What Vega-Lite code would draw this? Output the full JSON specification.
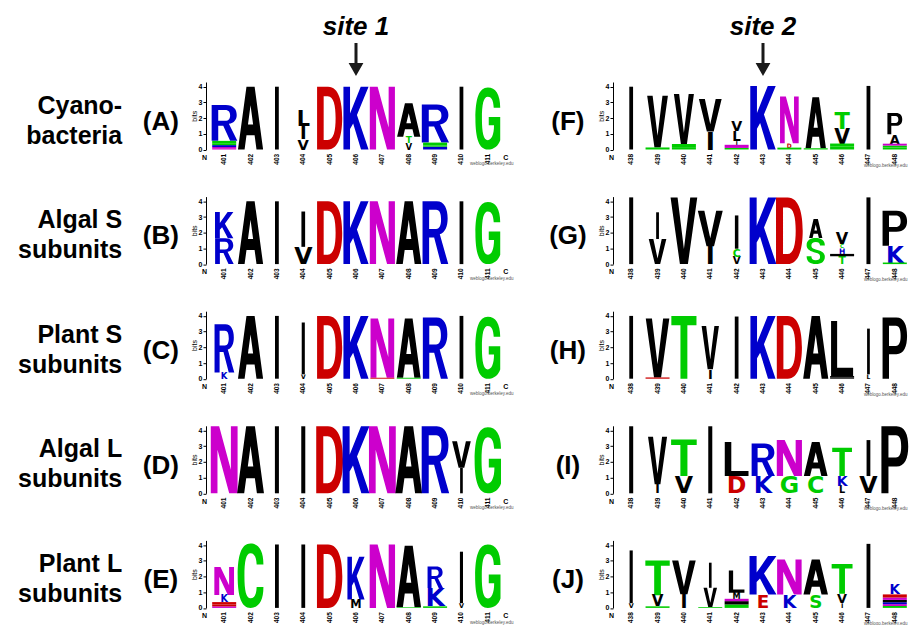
{
"$schema": "https://vega.github.io/schema/vega-lite/v6.json",
"padding": {"left": 17, "top": 13, "right": 0, "bottom": 0},
"bounds": "flush",
"spacing": {"row": 46.6, "column": 107},
"config": {"view": {"stroke": null}, "text": {"font": "Liberation Sans"},
 "axisY": {"grid": false, "domainColor": "#000", "tickColor": "#000", "tickSize": 3, "labelFontSize": 7, "labelFont": "Liberation Sans", "labelFontWeight": "bold", "labelColor": "#000", "labelPadding": 1, "titleFontSize": 7, "titleFont": "Liberation Sans", "titleFontWeight": "normal", "titleColor": "#000", "titlePadding": 1}},
"data": {"values": [
{"r":1,"s":1,"c":1,"p":401,"l":"N","b":0.08,"o":1},{"r":1,"s":1,"c":1,"p":401,"l":"Q","b":0.08,"o":2},{"r":1,"s":1,"c":1,"p":401,"l":"K","b":0.12,"o":3},{"r":1,"s":1,"c":1,"p":401,"l":"S","b":0.12,"o":4},{"r":1,"s":1,"c":1,"p":401,"l":"G","b":0.15,"o":5},{"r":1,"s":1,"c":1,"p":401,"l":"R","b":2.28,"o":6},
{"r":1,"s":1,"c":2,"p":402,"l":"A","b":4.0,"o":1},
{"r":1,"s":1,"c":3,"p":403,"l":"I","b":4.0,"o":1},
{"r":1,"s":1,"c":4,"p":404,"l":"V","b":0.68,"o":1},{"r":1,"s":1,"c":4,"p":404,"l":"I","b":0.83,"o":2},{"r":1,"s":1,"c":4,"p":404,"l":"L","b":0.97,"o":3},
{"r":1,"s":1,"c":5,"p":405,"l":"D","b":4.0,"o":1},
{"r":1,"s":1,"c":6,"p":406,"l":"K","b":4.0,"o":1},
{"r":1,"s":1,"c":7,"p":407,"l":"N","b":4.0,"o":1},
{"r":1,"s":1,"c":8,"p":408,"l":"V","b":0.4,"o":1},{"r":1,"s":1,"c":8,"p":408,"l":"T","b":0.42,"o":2},{"r":1,"s":1,"c":8,"p":408,"l":"A","b":2.12,"o":3},
{"r":1,"s":1,"c":9,"p":409,"l":"K","b":0.18,"o":1},{"r":1,"s":1,"c":9,"p":409,"l":"S","b":0.08,"o":2},{"r":1,"s":1,"c":9,"p":409,"l":"G","b":0.18,"o":3},{"r":1,"s":1,"c":9,"p":409,"l":"R","b":2.42,"o":4},
{"r":1,"s":1,"c":10,"p":410,"l":"I","b":4.0,"o":1},
{"r":1,"s":1,"c":11,"p":411,"l":"G","b":3.95,"o":1},

{"r":2,"s":1,"c":1,"p":401,"l":"R","b":1.65,"o":1},{"r":2,"s":1,"c":1,"p":401,"l":"K","b":1.67,"o":2},
{"r":2,"s":1,"c":2,"p":402,"l":"A","b":4.0,"o":1},
{"r":2,"s":1,"c":3,"p":403,"l":"I","b":4.0,"o":1},
{"r":2,"s":1,"c":4,"p":404,"l":"V","b":1.1,"o":1},{"r":2,"s":1,"c":4,"p":404,"l":"I","b":2.25,"o":2},
{"r":2,"s":1,"c":5,"p":405,"l":"D","b":4.0,"o":1},
{"r":2,"s":1,"c":6,"p":406,"l":"K","b":4.0,"o":1},
{"r":2,"s":1,"c":7,"p":407,"l":"N","b":4.0,"o":1},
{"r":2,"s":1,"c":8,"p":408,"l":"A","b":4.0,"o":1},
{"r":2,"s":1,"c":9,"p":409,"l":"R","b":4.0,"o":1},
{"r":2,"s":1,"c":10,"p":410,"l":"I","b":4.0,"o":1},
{"r":2,"s":1,"c":11,"p":411,"l":"G","b":3.95,"o":1},

{"r":3,"s":1,"c":1,"p":401,"l":"K","b":0.4,"o":1},{"r":3,"s":1,"c":1,"p":401,"l":"R","b":3.07,"o":2},
{"r":3,"s":1,"c":2,"p":402,"l":"A","b":4.0,"o":1},
{"r":3,"s":1,"c":3,"p":403,"l":"I","b":4.0,"o":1},
{"r":3,"s":1,"c":4,"p":404,"l":"V","b":0.28,"o":1},{"r":3,"s":1,"c":4,"p":404,"l":"I","b":3.3,"o":2},
{"r":3,"s":1,"c":5,"p":405,"l":"D","b":4.0,"o":1},
{"r":3,"s":1,"c":6,"p":406,"l":"K","b":4.0,"o":1},
{"r":3,"s":1,"c":7,"p":407,"l":"D","b":0.06,"o":1},{"r":3,"s":1,"c":7,"p":407,"l":"N","b":3.77,"o":2},
{"r":3,"s":1,"c":8,"p":408,"l":"S","b":0.06,"o":1},{"r":3,"s":1,"c":8,"p":408,"l":"A","b":3.77,"o":2},
{"r":3,"s":1,"c":9,"p":409,"l":"R","b":3.9,"o":1},
{"r":3,"s":1,"c":10,"p":410,"l":"I","b":4.0,"o":1},
{"r":3,"s":1,"c":11,"p":411,"l":"G","b":3.95,"o":1},

{"r":4,"s":1,"c":1,"p":401,"l":"N","b":4.27,"o":1},
{"r":4,"s":1,"c":2,"p":402,"l":"A","b":4.27,"o":1},
{"r":4,"s":1,"c":3,"p":403,"l":"I","b":4.27,"o":1},
{"r":4,"s":1,"c":4,"p":404,"l":"I","b":4.27,"o":1},
{"r":4,"s":1,"c":5,"p":405,"l":"D","b":4.27,"o":1},
{"r":4,"s":1,"c":6,"p":406,"l":"K","b":4.27,"o":1},
{"r":4,"s":1,"c":7,"p":407,"l":"N","b":4.27,"o":1},
{"r":4,"s":1,"c":8,"p":408,"l":"A","b":4.27,"o":1},
{"r":4,"s":1,"c":9,"p":409,"l":"R","b":4.27,"o":1},
{"r":4,"s":1,"c":10,"p":410,"l":"I","b":1.62,"o":1},{"r":4,"s":1,"c":10,"p":410,"l":"V","b":1.7,"o":2},
{"r":4,"s":1,"c":11,"p":411,"l":"G","b":4.2,"o":1},

{"r":5,"s":1,"c":1,"p":401,"l":"Q","b":0.1,"o":1},{"r":5,"s":1,"c":1,"p":401,"l":"E","b":0.12,"o":2},{"r":5,"s":1,"c":1,"p":401,"l":"D","b":0.15,"o":3},{"r":5,"s":1,"c":1,"p":401,"l":"K","b":0.45,"o":4},{"r":5,"s":1,"c":1,"p":401,"l":"N","b":1.79,"o":5},
{"r":5,"s":1,"c":2,"p":402,"l":"C","b":4.1,"o":1},
{"r":5,"s":1,"c":3,"p":403,"l":"I","b":4.04,"o":1},
{"r":5,"s":1,"c":4,"p":404,"l":"I","b":4.04,"o":1},
{"r":5,"s":1,"c":5,"p":405,"l":"D","b":4.04,"o":1},
{"r":5,"s":1,"c":6,"p":406,"l":"M","b":0.53,"o":1},{"r":5,"s":1,"c":6,"p":406,"l":"K","b":2.73,"o":2},
{"r":5,"s":1,"c":7,"p":407,"l":"N","b":4.04,"o":1},
{"r":5,"s":1,"c":8,"p":408,"l":"G","b":0.04,"o":1},{"r":5,"s":1,"c":8,"p":408,"l":"A","b":3.92,"o":2},
{"r":5,"s":1,"c":9,"p":409,"l":"S","b":0.1,"o":1},{"r":5,"s":1,"c":9,"p":409,"l":"K","b":1.16,"o":2},{"r":5,"s":1,"c":9,"p":409,"l":"R","b":1.37,"o":3},
{"r":5,"s":1,"c":10,"p":410,"l":"V","b":0.3,"o":1},{"r":5,"s":1,"c":10,"p":410,"l":"I","b":3.28,"o":2},
{"r":5,"s":1,"c":11,"p":411,"l":"G","b":4.04,"o":1},

{"r":1,"s":2,"c":1,"p":438,"l":"I","b":4.0,"o":1},
{"r":1,"s":2,"c":2,"p":439,"l":"T","b":0.13,"o":1},{"r":1,"s":2,"c":2,"p":439,"l":"V","b":3.3,"o":2},
{"r":1,"s":2,"c":3,"p":440,"l":"S","b":0.15,"o":1},{"r":1,"s":2,"c":3,"p":440,"l":"G","b":0.2,"o":2},{"r":1,"s":2,"c":3,"p":440,"l":"V","b":3.19,"o":3},
{"r":1,"s":2,"c":4,"p":441,"l":"I","b":1.15,"o":1},{"r":1,"s":2,"c":4,"p":441,"l":"V","b":2.07,"o":2},
{"r":1,"s":2,"c":5,"p":442,"l":"G","b":0.1,"o":1},{"r":1,"s":2,"c":5,"p":442,"l":"N","b":0.2,"o":2},{"r":1,"s":2,"c":5,"p":442,"l":"I","b":0.25,"o":3},{"r":1,"s":2,"c":5,"p":442,"l":"L","b":0.63,"o":4},{"r":1,"s":2,"c":5,"p":442,"l":"V","b":0.66,"o":5},
{"r":1,"s":2,"c":6,"p":443,"l":"K","b":4.05,"o":1},
{"r":1,"s":2,"c":7,"p":444,"l":"G","b":0.12,"o":1},{"r":1,"s":2,"c":7,"p":444,"l":"D","b":0.28,"o":2},{"r":1,"s":2,"c":7,"p":444,"l":"N","b":2.97,"o":3},
{"r":1,"s":2,"c":8,"p":445,"l":"S","b":0.08,"o":1},{"r":1,"s":2,"c":8,"p":445,"l":"A","b":3.25,"o":2},
{"r":1,"s":2,"c":9,"p":446,"l":"S","b":0.18,"o":1},{"r":1,"s":2,"c":9,"p":446,"l":"G","b":0.2,"o":2},{"r":1,"s":2,"c":9,"p":446,"l":"V","b":0.95,"o":3},{"r":1,"s":2,"c":9,"p":446,"l":"T","b":1.05,"o":4},
{"r":1,"s":2,"c":10,"p":447,"l":"I","b":4.05,"o":1},
{"r":1,"s":2,"c":11,"p":448,"l":"G","b":0.13,"o":1},{"r":1,"s":2,"c":11,"p":448,"l":"S","b":0.12,"o":2},{"r":1,"s":2,"c":11,"p":448,"l":"N","b":0.12,"o":3},{"r":1,"s":2,"c":11,"p":448,"l":"A","b":0.6,"o":4},{"r":1,"s":2,"c":11,"p":448,"l":"P","b":1.35,"o":5},

{"r":2,"s":2,"c":1,"p":438,"l":"I","b":4.25,"o":1},
{"r":2,"s":2,"c":2,"p":439,"l":"V","b":1.6,"o":1},{"r":2,"s":2,"c":2,"p":439,"l":"I","b":1.7,"o":2},
{"r":2,"s":2,"c":3,"p":440,"l":"V","b":4.25,"o":1},
{"r":2,"s":2,"c":4,"p":441,"l":"I","b":1.13,"o":1},{"r":2,"s":2,"c":4,"p":441,"l":"V","b":2.27,"o":2},
{"r":2,"s":2,"c":5,"p":442,"l":"V","b":0.48,"o":1},{"r":2,"s":2,"c":5,"p":442,"l":"C","b":0.5,"o":2},{"r":2,"s":2,"c":5,"p":442,"l":"I","b":2.12,"o":3},
{"r":2,"s":2,"c":6,"p":443,"l":"K","b":4.25,"o":1},
{"r":2,"s":2,"c":7,"p":444,"l":"D","b":4.25,"o":1},
{"r":2,"s":2,"c":8,"p":445,"l":"S","b":1.66,"o":1},{"r":2,"s":2,"c":8,"p":445,"l":"A","b":1.21,"o":2},
{"r":2,"s":2,"c":9,"p":446,"l":"T","b":0.5,"o":1},{"r":2,"s":2,"c":9,"p":446,"l":"I","b":0.15,"o":2},{"r":2,"s":2,"c":9,"p":446,"l":"H","b":0.35,"o":3},{"r":2,"s":2,"c":9,"p":446,"l":"C","b":0.25,"o":4},{"r":2,"s":2,"c":9,"p":446,"l":"V","b":0.75,"o":5},
{"r":2,"s":2,"c":10,"p":447,"l":"I","b":4.25,"o":1},
{"r":2,"s":2,"c":11,"p":448,"l":"S","b":0.1,"o":1},{"r":2,"s":2,"c":11,"p":448,"l":"K","b":1.07,"o":2},{"r":2,"s":2,"c":11,"p":448,"l":"P","b":2.23,"o":3},

{"r":3,"s":2,"c":1,"p":438,"l":"I","b":4.0,"o":1},
{"r":3,"s":2,"c":2,"p":439,"l":"D","b":0.08,"o":1},{"r":3,"s":2,"c":2,"p":439,"l":"V","b":3.75,"o":2},
{"r":3,"s":2,"c":3,"p":440,"l":"T","b":4.0,"o":1},
{"r":3,"s":2,"c":4,"p":441,"l":"I","b":0.6,"o":1},{"r":3,"s":2,"c":4,"p":441,"l":"V","b":2.76,"o":2},
{"r":3,"s":2,"c":5,"p":442,"l":"I","b":3.96,"o":1},
{"r":3,"s":2,"c":6,"p":443,"l":"K","b":4.0,"o":1},
{"r":3,"s":2,"c":7,"p":444,"l":"D","b":4.0,"o":1},
{"r":3,"s":2,"c":8,"p":445,"l":"A","b":4.0,"o":1},
{"r":3,"s":2,"c":9,"p":446,"l":"V","b":0.07,"o":1},{"r":3,"s":2,"c":9,"p":446,"l":"M","b":0.1,"o":2},{"r":3,"s":2,"c":9,"p":446,"l":"L","b":3.51,"o":3},
{"r":3,"s":2,"c":10,"p":447,"l":"L","b":0.28,"o":1},{"r":3,"s":2,"c":10,"p":447,"l":"I","b":2.91,"o":2},
{"r":3,"s":2,"c":11,"p":448,"l":"P","b":3.9,"o":1},

{"r":4,"s":2,"c":1,"p":438,"l":"I","b":4.27,"o":1},
{"r":4,"s":2,"c":2,"p":439,"l":"I","b":0.57,"o":1},{"r":4,"s":2,"c":2,"p":439,"l":"V","b":3.03,"o":2},
{"r":4,"s":2,"c":3,"p":440,"l":"V","b":1.1,"o":1},{"r":4,"s":2,"c":3,"p":440,"l":"T","b":2.33,"o":2},
{"r":4,"s":2,"c":4,"p":441,"l":"I","b":4.27,"o":1},
{"r":4,"s":2,"c":5,"p":442,"l":"D","b":1.1,"o":1},{"r":4,"s":2,"c":5,"p":442,"l":"L","b":2.16,"o":2},
{"r":4,"s":2,"c":6,"p":443,"l":"K","b":1.1,"o":1},{"r":4,"s":2,"c":6,"p":443,"l":"R","b":2.07,"o":2},
{"r":4,"s":2,"c":7,"p":444,"l":"G","b":1.1,"o":1},{"r":4,"s":2,"c":7,"p":444,"l":"N","b":2.29,"o":2},
{"r":4,"s":2,"c":8,"p":445,"l":"C","b":1.1,"o":1},{"r":4,"s":2,"c":8,"p":445,"l":"A","b":2.16,"o":2},
{"r":4,"s":2,"c":9,"p":446,"l":"L","b":0.45,"o":1},{"r":4,"s":2,"c":9,"p":446,"l":"K","b":0.65,"o":2},{"r":4,"s":2,"c":9,"p":446,"l":"T","b":1.8,"o":3},
{"r":4,"s":2,"c":10,"p":447,"l":"V","b":1.1,"o":1},{"r":4,"s":2,"c":10,"p":447,"l":"I","b":2.29,"o":2},
{"r":4,"s":2,"c":11,"p":448,"l":"P","b":4.27,"o":1},

{"r":5,"s":2,"c":1,"p":438,"l":"V","b":0.3,"o":1},{"r":5,"s":2,"c":1,"p":438,"l":"I","b":3.36,"o":2},
{"r":5,"s":2,"c":2,"p":439,"l":"S","b":0.1,"o":1},{"r":5,"s":2,"c":2,"p":439,"l":"V","b":0.7,"o":2},{"r":5,"s":2,"c":2,"p":439,"l":"T","b":2.22,"o":3},
{"r":5,"s":2,"c":3,"p":440,"l":"I","b":0.87,"o":1},{"r":5,"s":2,"c":3,"p":440,"l":"V","b":2.15,"o":2},
{"r":5,"s":2,"c":4,"p":441,"l":"G","b":0.05,"o":1},{"r":5,"s":2,"c":4,"p":441,"l":"V","b":1.23,"o":2},{"r":5,"s":2,"c":4,"p":441,"l":"I","b":1.6,"o":3},
{"r":5,"s":2,"c":5,"p":442,"l":"G","b":0.22,"o":1},{"r":5,"s":2,"c":5,"p":442,"l":"V","b":0.21,"o":2},{"r":5,"s":2,"c":5,"p":442,"l":"N","b":0.15,"o":3},{"r":5,"s":2,"c":5,"p":442,"l":"M","b":0.38,"o":4},{"r":5,"s":2,"c":5,"p":442,"l":"L","b":1.42,"o":5},
{"r":5,"s":2,"c":6,"p":443,"l":"E","b":0.85,"o":1},{"r":5,"s":2,"c":6,"p":443,"l":"K","b":2.45,"o":2},
{"r":5,"s":2,"c":7,"p":444,"l":"K","b":0.85,"o":1},{"r":5,"s":2,"c":7,"p":444,"l":"N","b":2.23,"o":2},
{"r":5,"s":2,"c":8,"p":445,"l":"S","b":0.85,"o":1},{"r":5,"s":2,"c":8,"p":445,"l":"A","b":2.23,"o":2},
{"r":5,"s":2,"c":9,"p":446,"l":"I","b":0.3,"o":1},{"r":5,"s":2,"c":9,"p":446,"l":"V","b":0.6,"o":2},{"r":5,"s":2,"c":9,"p":446,"l":"T","b":1.9,"o":3},
{"r":5,"s":2,"c":10,"p":447,"l":"I","b":4.08,"o":1},
{"r":5,"s":2,"c":11,"p":448,"l":"S","b":0.12,"o":1},{"r":5,"s":2,"c":11,"p":448,"l":"Q","b":0.12,"o":2},{"r":5,"s":2,"c":11,"p":448,"l":"H","b":0.12,"o":3},{"r":5,"s":2,"c":11,"p":448,"l":"M","b":0.15,"o":4},{"r":5,"s":2,"c":11,"p":448,"l":"N","b":0.15,"o":5},{"r":5,"s":2,"c":11,"p":448,"l":"E","b":0.2,"o":6},{"r":5,"s":2,"c":11,"p":448,"l":"K","b":0.63,"o":7},

{"r":1,"s":1,"k":"pl","t":"(A)"},{"r":2,"s":1,"k":"pl","t":"(B)"},{"r":3,"s":1,"k":"pl","t":"(C)"},{"r":4,"s":1,"k":"pl","t":"(D)"},{"r":5,"s":1,"k":"pl","t":"(E)"},
{"r":1,"s":2,"k":"pl","t":"(F)"},{"r":2,"s":2,"k":"pl","t":"(G)"},{"r":3,"s":2,"k":"pl","t":"(H)"},{"r":4,"s":2,"k":"pl","t":"(I)"},{"r":5,"s":2,"k":"pl","t":"(J)"},
{"r":1,"s":1,"k":"rl","t":["Cyano-","bacteria"]},{"r":2,"s":1,"k":"rl","t":["Algal S","subunits"]},{"r":3,"s":1,"k":"rl","t":["Plant S","subunits"]},{"r":4,"s":1,"k":"rl","t":["Algal L","subunits"]},{"r":5,"s":1,"k":"rl","t":["Plant L","subunits"]},
{"r":1,"s":1,"k":"st","t":"site 1"},{"r":1,"s":2,"k":"st","t":"site 2"}
]},
"transform": [{"stack": "b", "groupby": ["r","s","c"], "sort": [{"field": "o", "order": "ascending"}], "as": ["y0","y1"]}],
"facet": {"row": {"field": "r", "type": "ordinal", "header": null}, "column": {"field": "s", "type": "ordinal", "header": null}},
"resolve": {"scale": {"y": "independent"}, "axis": {"y": "independent"}},
"spec": {
"width": 300, "height": 67.5,
"resolve": {"scale": {"shape": "independent", "size": "independent"}},
"layer": [
{"transform": [{"filter": "datum.b >= 2.6"}],
 "mark": {"type": "point", "filled": true, "opacity": 1, "strokeWidth": 0},
 "encoding": {
  "x": {"field": "c", "type": "quantitative", "scale": {"domain": [0.5, 11.5], "nice": false, "zero": false}, "axis": null},
  "y": {"field": "y0", "type": "quantitative", "scale": {"domain": [0, 4.3], "nice": false}, "axis": {"title": "bits", "values": [0,1,2,3,4]}},
  "shape": {"field": "l", "type": "nominal", "legend": null, "scale": {"domain": ["A","C","D","G","I","K","L","N","P","R","T","V"], "range": [
   "M-4 0L-1.3 -20L1.3 -20L4 0L1.9 0L1.29 -4.5L-1.29 -4.5L-1.9 0Z M-0.82 -8L0.82 -8L0 -14.1Z",
   "M4 -13.5C4 -17.8 2.5 -20 0 -20C-2.8 -20 -4 -16.5 -4 -10C-4 -3.5 -2.8 0 0 0C2.5 0 4 -2.2 4 -6.5L1.9 -6.5C1.8 -4 1.1 -3 0 -3C-1.4 -3 -1.9 -5.5 -1.9 -10C-1.9 -14.5 -1.4 -17 0 -17C1.1 -17 1.8 -16 1.9 -13.5Z",
   "M-4 -20L-0.5 -20C3 -20 4 -15 4 -10C4 -5 3 0 -0.5 0L-4 0Z M-1.9 -17L-1.9 -3L-0.6 -3C1.3 -3 1.9 -6 1.9 -10C1.9 -14 1.3 -17 -0.6 -17Z",
   "M4 -13.5C4 -17.8 2.5 -20 0 -20C-2.8 -20 -4 -16.5 -4 -10C-4 -3.5 -2.8 0 0 0C2 0 3.4 -1.2 4 -3L4 -10.5L0.3 -10.5L0.3 -7.8L2 -7.8C2 -4.8 1.2 -3 0 -3C-1.4 -3 -1.9 -5.5 -1.9 -10C-1.9 -14.5 -1.4 -17 0 -17C1.1 -17 1.8 -16 1.9 -13.5Z",
   "M-0.6 -20L0.6 -20L0.6 0L-0.6 0Z",
   "M-4 -20L-1.9 -20L-1.9 -11.5L1.5 -20L4 -20L0.3 -11L4 0L1.6 0L-0.9 -8.3L-1.9 -6.5L-1.9 0L-4 0Z",
   "M-4 -20L-1.8 -20L-1.8 -3L4 -3L4 0L-4 0Z",
   "M-4 0L-4 -20L-1.5 -20L2 -7L2 -20L4 -20L4 0L1.5 0L-2 -13L-2 0Z",
   "M-4 0L-4 -20L0.5 -20C3 -20 4 -17.5 4 -14C4 -10.5 3 -8 0.5 -8L-1.9 -8L-1.9 0Z M-1.9 -17.3L-1.9 -10.7L0.3 -10.7C1.5 -10.7 1.9 -12 1.9 -14C1.9 -16 1.5 -17.3 0.3 -17.3Z",
   "M-4 0L-4 -20L0.5 -20C3 -20 4 -17.5 4 -14.5C4 -12 3.2 -10 1.5 -9.5L4.2 0L1.9 0L-0.3 -8.5L-1.9 -8.5L-1.9 0Z M-1.9 -17.3L-1.9 -11.2L0.3 -11.2C1.5 -11.2 1.9 -12.5 1.9 -14.2C1.9 -16 1.5 -17.3 0.3 -17.3Z",
   "M-4 -20L4 -20L4 -17L1.1 -17L1.1 0L-1.1 0L-1.1 -17L-4 -17Z",
   "M-4 -20L-1.9 -20L0 -4.5L1.9 -20L4 -20L1.2 0L-1.2 0Z"]}},
  "size": {"field": "b", "type": "quantitative", "legend": null, "scale": {"type": "pow", "exponent": 2, "domain": [0, 4], "range": [0, 39.43]}},
  "color": {"field": "l", "type": "nominal", "legend": null, "scale": {"domain": ["A","C","D","E","F","G","H","I","K","L","M","N","P","Q","R","S","T","V","W","Y"], "range": ["#000000","#00CC00","#CC0000","#CC0000","#000000","#00CC00","#0000CC","#000000","#0000CC","#000000","#000000","#CC00CC","#000000","#CC00CC","#0000CC","#00CC00","#00CC00","#000000","#000000","#00CC00"]}}
 }},
{"transform": [{"filter": "datum.b >= 1.2 && datum.b < 2.6"}],
 "mark": {"type": "point", "filled": true, "opacity": 1, "strokeWidth": 0},
 "encoding": {
  "x": {"field": "c", "type": "quantitative", "scale": {"domain": [0.5, 11.5], "nice": false, "zero": false}, "axis": null},
  "y": {"field": "y0", "type": "quantitative", "scale": {"domain": [0, 4.3], "nice": false}, "axis": {"title": "bits", "values": [0,1,2,3,4]}},
  "shape": {"field": "l", "type": "nominal", "legend": null, "scale": {"domain": ["A","I","K","L","N","P","R","S","T","V"], "range": [
   "M-7 0L-2.275 -20L2.275 -20L7 0L3.325 0L2.258 -4.5L-2.258 -4.5L-3.325 0Z M-1.435 -8L1.435 -8L0 -14.1Z",
   "M-1.05 -20L1.05 -20L1.05 0L-1.05 0Z",
   "M-7 -20L-3.325 -20L-3.325 -11.5L2.625 -20L7 -20L0.525 -11L7 0L2.8 0L-1.575 -8.3L-3.325 -6.5L-3.325 0L-7 0Z",
   "M-7 -20L-3.15 -20L-3.15 -3L7 -3L7 0L-7 0Z",
   "M-7 0L-7 -20L-2.625 -20L3.5 -7L3.5 -20L7 -20L7 0L2.625 0L-3.5 -13L-3.5 0Z",
   "M-7 0L-7 -20L0.875 -20C5.25 -20 7 -17.5 7 -14C7 -10.5 5.25 -8 0.875 -8L-3.325 -8L-3.325 0Z M-3.325 -17.3L-3.325 -10.7L0.525 -10.7C2.625 -10.7 3.325 -12 3.325 -14C3.325 -16 2.625 -17.3 0.525 -17.3Z",
   "M-7 0L-7 -20L0.875 -20C5.25 -20 7 -17.5 7 -14.5C7 -12 5.6 -10 2.625 -9.5L7.35 0L3.325 0L-0.525 -8.5L-3.325 -8.5L-3.325 0Z M-3.325 -17.3L-3.325 -11.2L0.525 -11.2C2.625 -11.2 3.325 -12.5 3.325 -14.2C3.325 -16 2.625 -17.3 0.525 -17.3Z",
   "M7 -14.3C7 -18.3 4.025 -20 0 -20C-4.375 -20 -7 -18 -7 -14.5C-7 -11 -3.85 -10 0 -8.7C2.625 -8.1 3.325 -7.3 3.325 -5.5C3.325 -3.8 2.1 -3 0 -3C-2.275 -3 -3.325 -4 -3.325 -6L-7 -6C-7 -1.8 -4.025 0 0 0C4.55 0 7 -2 7 -5.6C7 -9 3.85 -10.4 0 -11.3C-2.45 -11.8 -3.325 -12.5 -3.325 -14.3C-3.325 -16 -2.1 -17 0 -17C2.1 -17 3.15 -16.2 3.325 -14.3Z",
   "M-7 -20L7 -20L7 -17L1.925 -17L1.925 0L-1.925 0L-1.925 -17L-7 -17Z",
   "M-7 -20L-3.325 -20L0 -4.5L3.325 -20L7 -20L2.1 0L-2.1 0Z"]}},
  "size": {"field": "b", "type": "quantitative", "legend": null, "scale": {"type": "pow", "exponent": 2, "domain": [0, 4], "range": [0, 39.43]}},
  "color": {"field": "l", "type": "nominal", "legend": null}
 }},
{"transform": [{"filter": "datum.b >= 0.25 && datum.b < 1.2"}],
 "mark": {"type": "text", "align": "center", "baseline": "alphabetic", "font": "DejaVu Sans", "fontWeight": "bold"},
 "encoding": {
  "x": {"field": "c", "type": "quantitative", "scale": {"domain": [0.5, 11.5], "nice": false, "zero": false}, "axis": null},
  "y": {"field": "y0", "type": "quantitative", "scale": {"domain": [0, 4.3], "nice": false}, "axis": {"title": "bits", "values": [0,1,2,3,4]}},
  "text": {"field": "l", "type": "nominal"},
  "size": {"field": "b", "type": "quantitative", "legend": null, "scale": {"domain": [0, 4], "range": [0, 86]}},
  "color": {"field": "l", "type": "nominal", "legend": null}
 }},
{"transform": [{"filter": "datum.b < 0.25"}],
 "mark": {"type": "bar", "size": 24},
 "encoding": {
  "x": {"field": "c", "type": "quantitative", "scale": {"domain": [0.5, 11.5], "nice": false, "zero": false}, "axis": null},
  "y": {"field": "y0", "type": "quantitative", "scale": {"domain": [0, 4.3], "nice": false}, "axis": {"title": "bits", "values": [0,1,2,3,4]}},
  "y2": {"field": "y1"},
  "color": {"field": "l", "type": "nominal", "legend": null}
 }},
{"transform": [{"filter": "datum.o == 1"}],
 "mark": {"type": "text", "angle": 270, "align": "right", "baseline": "middle", "fontSize": 6.5, "fontWeight": "bold", "font": "Liberation Sans", "color": "#000"},
 "encoding": {
  "x": {"field": "c", "type": "quantitative", "scale": {"domain": [0.5, 11.5], "nice": false, "zero": false}, "axis": null},
  "y": {"datum": -0.274, "type": "quantitative", "scale": {"domain": [0, 4.3], "nice": false}, "axis": {"title": "bits", "values": [0,1,2,3,4]}},
  "text": {"field": "p", "type": "nominal"}
 }},
{"transform": [{"filter": "datum.o == 1 && datum.c == 1"}],
 "mark": {"type": "text", "align": "center", "baseline": "middle", "fontSize": 7, "fontWeight": "bold", "font": "Liberation Sans", "color": "#000", "text": "N"},
 "encoding": {
  "x": {"datum": 0.25, "type": "quantitative", "scale": {"domain": [0.5, 11.5], "nice": false, "zero": false}, "axis": null},
  "y": {"datum": -0.53, "type": "quantitative", "scale": {"domain": [0, 4.3], "nice": false}, "axis": {"title": "bits", "values": [0,1,2,3,4]}}
 }},
{"transform": [{"filter": "datum.o == 1 && datum.c == 1 && datum.s == 1"}],
 "mark": {"type": "text", "align": "center", "baseline": "middle", "fontSize": 7, "fontWeight": "bold", "font": "Liberation Sans", "color": "#000", "text": "C"},
 "encoding": {
  "x": {"datum": 11.68, "type": "quantitative", "scale": {"domain": [0.5, 11.5], "nice": false, "zero": false}, "axis": null},
  "y": {"datum": -0.53, "type": "quantitative", "scale": {"domain": [0, 4.3], "nice": false}, "axis": {"title": "bits", "values": [0,1,2,3,4]}}
 }},
{"transform": [{"filter": "datum.o == 1 && datum.c == 1 && datum.s == 1"}],
 "mark": {"type": "text", "align": "center", "baseline": "middle", "fontSize": 4.5, "font": "Liberation Sans", "color": "#555", "text": "weblogo.berkeley.edu"},
 "encoding": {
  "x": {"datum": 11.15, "type": "quantitative", "scale": {"domain": [0.5, 11.5], "nice": false, "zero": false}, "axis": null},
  "y": {"datum": -0.95, "type": "quantitative", "scale": {"domain": [0, 4.3], "nice": false}, "axis": {"title": "bits", "values": [0,1,2,3,4]}}
 }},
{"transform": [{"filter": "datum.o == 1 && datum.c == 1 && datum.s == 2"}],
 "mark": {"type": "text", "align": "right", "baseline": "middle", "fontSize": 4.5, "font": "Liberation Sans", "color": "#555", "text": "weblogo.berkeley.edu"},
 "encoding": {
  "x": {"datum": 11.48, "type": "quantitative", "scale": {"domain": [0.5, 11.5], "nice": false, "zero": false}, "axis": null},
  "y": {"datum": -1.02, "type": "quantitative", "scale": {"domain": [0, 4.3], "nice": false}, "axis": {"title": "bits", "values": [0,1,2,3,4]}}
 }},
{"transform": [{"filter": "datum.k == 'pl'"}],
 "mark": {"type": "text", "align": "center", "baseline": "middle", "fontSize": 26, "fontWeight": "bold", "font": "Liberation Sans", "color": "#000"},
 "encoding": {
  "x": {"datum": -1.4, "type": "quantitative", "scale": {"domain": [0.5, 11.5], "nice": false, "zero": false}, "axis": null},
  "y": {"datum": 1.76, "type": "quantitative", "scale": {"domain": [0, 4.3], "nice": false}, "axis": {"title": "bits", "values": [0,1,2,3,4]}},
  "text": {"field": "t", "type": "nominal"}
 }},
{"transform": [{"filter": "datum.k == 'rl'"}],
 "mark": {"type": "text", "align": "right", "baseline": "middle", "fontSize": 25, "fontWeight": "bold", "font": "Liberation Sans", "color": "#000", "lineHeight": 30},
 "encoding": {
  "x": {"datum": -2.87, "type": "quantitative", "scale": {"domain": [0.5, 11.5], "nice": false, "zero": false}, "axis": null},
  "y": {"datum": 2.8, "type": "quantitative", "scale": {"domain": [0, 4.3], "nice": false}, "axis": {"title": "bits", "values": [0,1,2,3,4]}},
  "text": {"field": "t", "type": "nominal"}
 }},
{"transform": [{"filter": "datum.k == 'st'"}],
 "mark": {"type": "text", "align": "center", "baseline": "alphabetic", "fontSize": 26, "fontWeight": "bold", "fontStyle": "italic", "font": "Liberation Sans", "color": "#000"},
 "encoding": {
  "x": {"datum": 6, "type": "quantitative", "scale": {"domain": [0.5, 11.5], "nice": false, "zero": false}, "axis": null},
  "y": {"datum": 7.3, "type": "quantitative", "scale": {"domain": [0, 4.3], "nice": false}, "axis": {"title": "bits", "values": [0,1,2,3,4]}},
  "text": {"field": "t", "type": "nominal"}
 }},
{"transform": [{"filter": "datum.k == 'st'"}],
 "mark": {"type": "point", "filled": true, "opacity": 1, "strokeWidth": 0, "color": "#1a1a1a", "size": 16, "shape": "M-0.75 -16.5L0.75 -16.5L0.75 -6.5L3.7 -6.5L0 0L-3.7 -6.5L-0.75 -6.5Z"},
 "encoding": {
  "x": {"datum": 6, "type": "quantitative", "scale": {"domain": [0.5, 11.5], "nice": false, "zero": false}, "axis": null},
  "y": {"datum": 4.68, "type": "quantitative", "scale": {"domain": [0, 4.3], "nice": false}, "axis": {"title": "bits", "values": [0,1,2,3,4]}}
 }}
]
}
}
